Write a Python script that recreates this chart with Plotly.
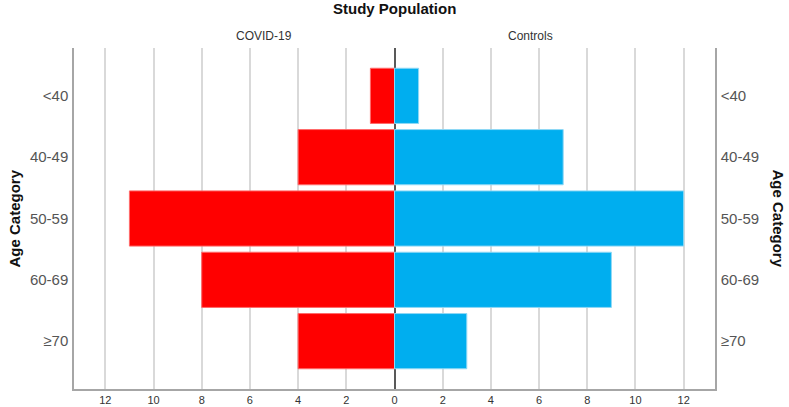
import plotly.graph_objects as go

ages = ["<40", "40-49", "50-59", "60-69", "≥70"]
covid = [1, 4, 11, 8, 4]
controls = [1, 7, 12, 9, 3]
tick_vals = [-12, -10, -8, -6, -4, -2, 0, 2, 4, 6, 8, 10, 12]
tick_text = [str(abs(v)) for v in tick_vals]

font_name = "Liberation Sans, Arial, sans-serif"

fig = go.Figure()
fig.add_trace(go.Bar(
    y=ages, x=[-v for v in covid], orientation="h", name="COVID-19",
    marker=dict(color="#ff0000", line=dict(color="#ff6a6a", width=1)),
))
fig.add_trace(go.Bar(
    y=ages, x=controls, orientation="h", name="Controls",
    marker=dict(color="#00aeef", line=dict(color="#8fd8f5", width=1)),
))
# invisible trace to drive right-hand category labels
fig.add_trace(go.Scatter(y=ages, x=[0] * len(ages), yaxis="y2",
                         mode="markers", marker=dict(opacity=0),
                         hoverinfo="skip", showlegend=False))

fig.update_layout(
    width=789, height=407,
    margin=dict(l=74, r=74, t=48, b=18, autoexpand=False),
    barmode="overlay", bargap=0.1,
    showlegend=False,
    plot_bgcolor="white", paper_bgcolor="white",
    font=dict(family=font_name, color="#333"),
    xaxis=dict(
        range=[-13.3, 13.3], tickvals=tick_vals, ticktext=tick_text,
        tickfont=dict(size=11, color="#333"),
        showgrid=True, gridcolor="#d9d9d9", gridwidth=1.5,
        zeroline=True, zerolinecolor="#595959", zerolinewidth=1.5,
        showline=True, linecolor="#a6a6a6", linewidth=1.5,
        ticks="", automargin=False,
    ),
    yaxis=dict(
        type="category", categoryorder="array", categoryarray=ages,
        range=[4.78, -0.78],
        tickfont=dict(size=15, color="#555"),
        showline=True, linecolor="#a6a6a6", linewidth=1.5,
        ticks="", showgrid=False, ticklabelstandoff=1, automargin=False,
    ),
    yaxis2=dict(
        matches="y", overlaying="y", side="right",
        tickfont=dict(size=15, color="#555"),
        showline=True, linecolor="#a6a6a6", linewidth=1.5,
        ticks="", showgrid=False, ticklabelstandoff=1, automargin=False,
    ),
)

fig.add_annotation(text="<b>Study Population</b>", xref="paper", yref="paper",
                   x=0.5, y=1.117, yanchor="middle", showarrow=False,
                   font=dict(size=15, color="#111"))
fig.add_annotation(text="COVID-19", xref="paper", yref="paper",
                   x=0.25, y=1.035, yanchor="middle", showarrow=False,
                   font=dict(size=12, color="#333"))
fig.add_annotation(text="Controls", xref="paper", yref="paper",
                   x=0.75, y=1.035, yanchor="middle", showarrow=False,
                   font=dict(size=12, color="#333"))
fig.add_annotation(text="<b>Age Category</b>", xref="paper", yref="paper",
                   x=-0.0936, y=0.5, xanchor="center", yanchor="middle",
                   textangle=-90, showarrow=False,
                   font=dict(size=15, color="#111"))
fig.add_annotation(text="<b>Age Category</b>", xref="paper", yref="paper",
                   x=1.0998, y=0.5, xanchor="center", yanchor="middle",
                   textangle=90, showarrow=False,
                   font=dict(size=15, color="#111"))

fig.write_html("out.html", config={"displayModeBar": False},
               post_script="document.body.style.margin='0';")
